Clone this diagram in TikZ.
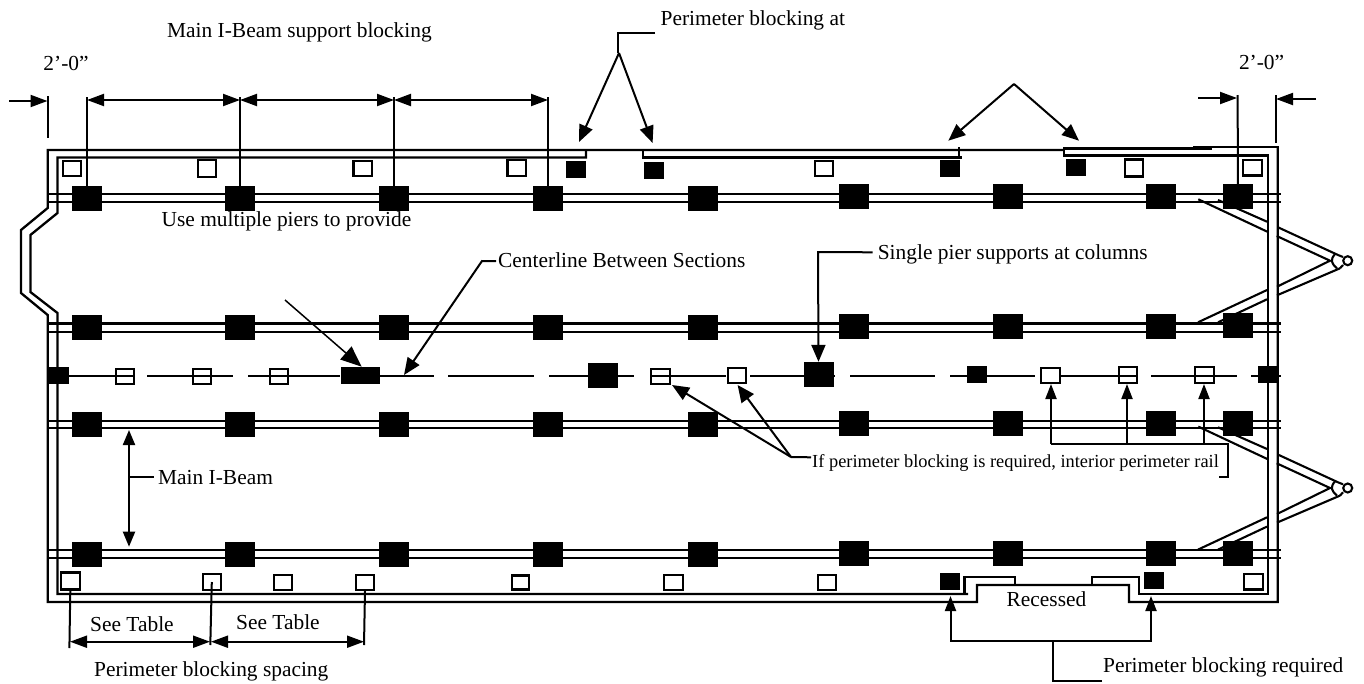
\documentclass[tikz,border=0pt]{standalone}
\usepackage{fontspec}
\setmainfont{Liberation Serif}
\usetikzlibrary{arrows.meta}
\tikzset{
 rail/.style={line width=2.3pt,line join=miter},
 arm/.style={line width=2.1pt,line join=miter},
 lead/.style={line width=2pt},
 thin lead/.style={line width=1.5pt},
 dimtip/.style={-{Triangle[length=17pt,width=12pt]}},
 bigtip/.style={-{Triangle[length=17pt,width=14pt]}},
 dimboth/.style={{Triangle[length=17pt,width=12pt]}-{Triangle[length=17pt,width=12pt]}},
 smalltip/.style={-{Triangle[length=15pt,width=11pt]}},
 pier/.style={fill=black,draw=none,inner sep=0pt,minimum width=30pt,minimum height=25pt},
 bblock/.style={fill=black,draw=none,inner sep=0pt,minimum width=20pt,minimum height=17pt},
 wblock/.style={draw=black,line width=2.1pt,fill=none,inner sep=0pt,minimum width=18.5pt,minimum height=15.5pt},
 lbl/.style={inner sep=0pt,font=\fontsize{21.4}{23}\selectfont,anchor=base west},
 clbl/.style={inner sep=0pt,font=\fontsize{21.4}{23}\selectfont,anchor=base},
}
\begin{document}
\begin{tikzpicture}[x=1pt,y=-1pt]
\useasboundingbox (0,0) rectangle (1364,683);
% hitches (arms broken between the two rails)
\foreach \dy in {0,227.3}{
 \begin{scope}[shift={(0,\dy)}]
 \draw[arm] (1218,200) -- (1267,221.7);
 \draw[arm] (1278,227.3) -- (1338,255);
 \draw[arm] (1198.3,199.3) -- (1267.3,231.7);
 \draw[arm] (1276.7,236) -- (1330,260.7) -- (1277,286.7);
 \draw[arm] (1267,290) -- (1198,322.3);
 \draw[arm] (1340,268.3) -- (1277,295.3);
 \draw[arm] (1267,299.3) -- (1218,322.3);
 \draw[arm] (1335,254) .. controls (1330,260) and (1331,263) .. (1337,268.3);
 \draw[arm] (1338,255) -- (1343,257);
 \draw[arm] (1340,268.3) -- (1343,265);
 \end{scope}
}
\node[circle,draw,line width=2.1pt,fill=white,inner sep=0pt,minimum size=9pt] (hitchA) at (1347.7,260.7) {};
\node[circle,draw,line width=2.1pt,fill=white,inner sep=0pt,minimum size=9pt] (hitchB) at (1347.7,488) {};
% rails
\draw[rail] (586,149) -- (586,157.5) -- (57.5,157.5) -- (57.5,213) -- (30.4,235) -- (30.4,292) -- (57.5,313) -- (57.5,594) -- (968,594);
\draw[rail] (964.5,594) -- (964.5,577) -- (1015,577) -- (1015,585);
\draw[rail] (1092,585) -- (1092,577) -- (1139,577) -- (1139,594) -- (1268.3,594) -- (1268.3,155.5) -- (1064.3,155.5) -- (1064.3,147.5);
\draw[rail] (643,149) -- (643,157.5) -- (962,157.5);
\draw[rail] (959.3,158) -- (959.3,147);
\draw[rail] (1064,150) -- (47.7,150) -- (47.7,208) -- (21,230) -- (21,293) -- (47.7,315) -- (47.7,602) -- (977,602) -- (977,585) -- (1129,585) -- (1129,602) -- (1277.7,602) -- (1277.7,147);
\draw[rail] (1063.2,148.5) -- (1212,148.5);
\draw[rail] (1193,147) -- (1278.8,147);
% main I-beams
\foreach \ya/\yb in {194/202,323.5/331.7,420.7/428.3,550/558}{
 \draw[rail] (47.7,\ya) -- (1281,\ya);
 \draw[rail] (47.7,\yb) -- (1281,\yb);
}
% centre line
\foreach \a/\b in {47/135,147/233,248/340,379/434,448/534,549/634,650/726,750/835,850/935,950/1035,1061/1138,1151/1237,1251/1281}{
 \draw[lead] (\a,376) -- (\b,376);
}
% piers
\foreach \n/\x/\ya/\yb/\yc/\yd in {a/86.5/198.5/327.5/424.5/554,b/240/198/327.5/424.5/554,c/394/198.5/327.5/424.5/554,d/548/198/327/424/554,e/702.5/198.5/327.5/424.5/554,f/854/196.5/326/423/553.5,g/1008/196.5/326/423/553.5,h/1161/196.5/326/423/553.5,i/1238/196.5/325.5/423/553.5}{
 \node[pier] (r1\n) at (\x,\ya) {};
 \node[pier] (r2\n) at (\x,\yb) {};
 \node[pier] (r3\n) at (\x,\yc) {};
 \node[pier] (r4\n) at (\x,\yd) {};
}
% centre-line piers and blocks
\node[bblock,minimum width=21pt] (c0) at (58,375.5) {};
\node[wblock] (c1) at (125,376.5) {};
\node[wblock] (c2) at (202,376.5) {};
\node[wblock] (c3) at (279,376.5) {};
\node[bblock,minimum width=39pt] (c4) at (360,375.8) {};
\node[pier] (c5) at (603,375.5) {};
\node[wblock] (c6) at (660.5,376.5) {};
\node[wblock] (c7) at (737,375.5) {};
\node[pier] (c8) at (818.5,374.5) {};
\node[bblock] (c9) at (976.5,374.5) {};
\node[wblock] (c10) at (1050.5,375.5) {};
\node[wblock] (c11) at (1128,375) {};
\node[wblock] (c12) at (1204.5,375) {};
\node[bblock] (c13) at (1268,374.5) {};
% top row
\node[wblock] (t1) at (71.8,168.5) {};
\node[wblock,minimum height=17pt] (t2) at (207,168.5) {};
\node[wblock] (t3) at (362.7,168.5) {};
\node[wblock] (t4) at (516.7,168) {};
\node[bblock] (t5) at (575.7,169) {};
\node[bblock] (t6) at (654,170) {};
\node[wblock] (t7) at (824,168.5) {};
\node[bblock] (t8) at (949.7,168.3) {};
\node[bblock] (t9) at (1075.5,167) {};
\node[wblock,minimum height=17pt] (t10) at (1134,168) {};
\node[wblock] (t11) at (1252.5,167.7) {};
% bottom row
\node[wblock,minimum height=17pt] (b1) at (70.3,581) {};
\node[wblock] (b2) at (211.8,582) {};
\node[wblock] (b3) at (283,582.3) {};
\node[wblock] (b4) at (365,582.3) {};
\node[wblock,minimum width=17pt,minimum height=14pt] (b5) at (520.3,582.5) {};
\node[wblock] (b6) at (673.3,582.3) {};
\node[wblock] (b7) at (827,582.3) {};
\node[bblock] (b8) at (950,581.7) {};
\node[bblock] (b9) at (1154,580.7) {};
\node[wblock] (b10) at (1253.5,581.7) {};
% top dimensions
\coordinate (da) at (86.5,97); \coordinate (db) at (240,97); \coordinate (dc) at (394,97); \coordinate (dd) at (548,97);
\draw[lead] (da) -- (r1a.center); \draw[lead] (db) -- (r1b.center); \draw[lead] (dc) -- (r1c.center); \draw[lead] (dd) -- (r1d.center);
\draw[lead,dimboth] (87,100) -- (240,100);
\draw[lead,dimboth] (240,100) -- (394,100);
\draw[lead,dimboth] (394,100) -- (548,100);
\coordinate (la) at (48,96); \coordinate (lb) at (48,138); \coordinate (lc) at (9,101);
\draw[lead] (la) -- (lb);
\draw[lead,dimtip] (lc) -- (47.5,101);
\coordinate (ra) at (1237.6,95); \coordinate (rc) at (1198,98);
\draw[lead] (ra) -- (r1i.center);
\draw[lead,dimtip] (rc) -- (1237,98);
\coordinate (rd) at (1275.6,95); \coordinate (re) at (1275.6,143); \coordinate (rf) at (1316,99);
\draw[lead] (rd) -- (re);
\draw[lead,dimtip] (rf) -- (1276,99);
% texts
\node[lbl] (tmain) at (167,37.3) {Main I-Beam support blocking};
\node[clbl] (tl) at (66,70) {2’-0”};
\node[clbl] (tr) at (1261.6,69) {2’-0”};
\node[lbl] (tpa) at (660.5,25) {Perimeter blocking at};
\node[lbl] (tuse) at (161.5,226.7) {Use multiple piers to provide};
\node[lbl] (tcen) at (498,267.7) {Centerline Between Sections};
\node[lbl] (tsin) at (877.6,259.3) {Single pier supports at columns};
\node[lbl,font=\fontsize{18.4}{20}\selectfont] (tif) at (812,467.3) {If perimeter blocking is required, interior perimeter rail};
\node[lbl] (tbeam) at (158,484) {Main I-Beam};
\node[lbl] (ts1) at (90,631.7) {See Table};
\node[lbl] (ts2) at (236,629.3) {See Table};
\node[lbl] (tspc) at (94,676) {Perimeter blocking spacing};
\node[clbl] (trec) at (1046.5,606.7) {Recessed};
\node[lbl] (treq) at (1103,672.7) {Perimeter blocking required};
% perimeter leaders
\coordinate (pa) at (618,33); \coordinate (pb) at (619,53);
\draw[lead] (655,33) -- (pa) -- (618,53);
\draw[lead,bigtip] (pb) -- (579,142);
\draw[lead,bigtip] (pb) -- (652.6,143);
\coordinate (pc) at (1014,84);
\draw[lead,bigtip] (pc) -- (948.3,140.7);
\draw[lead,bigtip] (pc) -- (1079,140.7);
% centerline leader
\draw[lead,bigtip] (tcen.base west) ++(-2,-6.5) -- (482,261) -- (404,375);
\coordinate (ma) at (285,300);
\draw[thin lead,-{Triangle[length=21pt,width=17pt]}] (ma) -- (361.7,366.7);
% single pier leader
\draw[lead,bigtip] (tsin.base west) ++(-5,-7) -- (818,252) -- (c8.north);
% if leader
\coordinate (ia) at (791,457);
\draw[lead] (tif.base west) ++(-1,-10) -- (ia);
\draw[lead,bigtip] (ia) -- (672,385);
\draw[lead,-{Triangle[length=17pt,width=15pt]}] (ia) -- (737.6,385);
\coordinate (ib) at (1227.5,444);
\draw[lead] (1219,476.7) -- (1227.5,476.7) -- (ib) -- (1051,444);
\draw[lead,smalltip] (1051,444) -- (1051,384);
\draw[lead,smalltip] (1127,444) -- (1127,384);
\draw[lead,smalltip] (1204,444) -- (1204,384);
% main i-beam
\coordinate (ma1) at (129,430); \coordinate (ma2) at (129,546.7);
\draw[lead,{Triangle[length=15pt,width=12pt]}-{Triangle[length=15pt,width=12pt]}] (ma1) -- (ma2);
\draw[lead] (129,476.7) -- (154,476.7);
% bottom dims
\draw[lead] (b1.south) -- (69.4,648);
\draw[lead] (b2.center) -- (210.3,645);
\draw[lead] (b4.south) -- (364,645);
\draw[lead,dimboth] (70,641.7) -- (210,641.7);
\draw[lead,dimboth] (211,641.7) -- (364,641.7);
% required leader
\coordinate (qa) at (1053,640.7);
\draw[lead] (1102,680.7) -- (1053,680.7) -- (qa);
\draw[lead,smalltip] (qa) -- (950.5,640.7) -- (950.5,596);
\draw[lead,smalltip] (qa) -- (1151,640.7) -- (1151,596);
\end{tikzpicture}
\end{document}
